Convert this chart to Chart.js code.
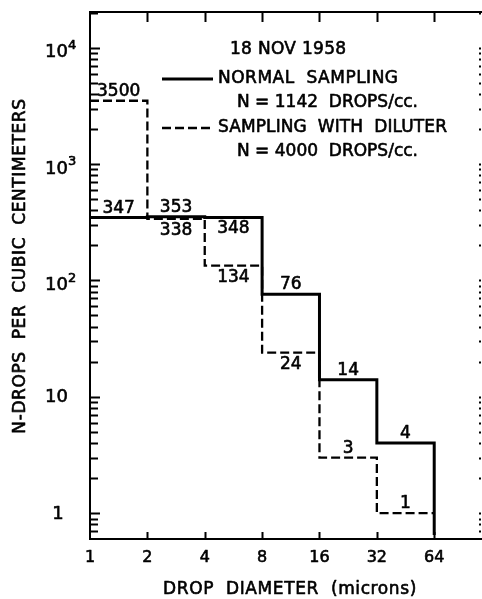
<!DOCTYPE html>
<html><head><meta charset="utf-8">
<script src="https://cdn.jsdelivr.net/npm/chart.js@4/dist/chart.umd.min.js"></script>
<style>html,body{margin:0;padding:0;background:#fff;}#wrap{width:482px;height:599px;position:relative;}</style>
</head><body><div id="wrap"><canvas id="c" width="482" height="599"></canvas></div>
<script>
// ---- data ----
const binEdges = [1, 2, 4, 8, 16, 32, 64];
const normalSampling = [347, 353, 348, 76, 14, 4];
const diluterSampling = [3500, 338, 134, 24, 3, 1];
const normalLabelSide = ['above', 'above', 'below', 'above', 'above', 'above'];
const diluterLabelSide = ['above', 'below', 'below', 'below', 'above', 'above'];
const xTickValues = [1, 2, 4, 8, 16, 32, 64];
const yDecades = [1, 10, 100, 1000, 10000];
const yTickBase = ['1', '10', '10', '10', '10'];
const yTickExp = ['', '', '2', '3', '4'];
const chartDate = '18 NOV 1958';
const seriesNames = ['NORMAL  SAMPLING', 'SAMPLING  WITH  DILUTER'];
const seriesCounts = ['N = 1142  DROPS/cc.', 'N = 4000  DROPS/cc.'];
const xTitle = 'DROP  DIAMETER  (microns)';
const yTitle = 'N-DROPS  PER  CUBIC  CENTIMETERS';

// ---- axis ranges ----
const xMin = 1, xMax = 114;
const yMin = 0.649, yMax = 20270;

const FONT = '"DejaVu Sans", sans-serif';

function stepPoints(vals, endY) {
  const pts = vals.map((v, i) => ({ x: binEdges[i], y: v }));
  pts.push({ x: binEdges[binEdges.length - 1], y: endY });
  return pts;
}

function yTickList() {
  const t = [];
  for (let e = -1; e <= 4; e++) {
    for (let k = 1; k <= 9; k++) {
      const v = k * Math.pow(10, e);
      if (v >= yMin && v <= yMax) t.push({ value: v });
    }
  }
  return t;
}

function txt(ctx, s, x, y, sp) {
  ctx.letterSpacing = (sp || 0) + 'px';
  ctx.fillText(s, x, y);
  ctx.strokeText(s, x, y);
  ctx.letterSpacing = '0px';
}

const decorPlugin = {
  id: 'decor',
  afterDraw(chart) {
    const ctx = chart.ctx;
    const a = chart.chartArea;
    const xs = chart.scales.x, ys = chart.scales.y;
    ctx.save();
    ctx.strokeStyle = '#000';
    ctx.fillStyle = '#000';
    ctx.lineCap = 'butt';
    // frame
    ctx.lineWidth = 2;
    ctx.beginPath();
    ctx.moveTo(a.left, a.top); ctx.lineTo(a.left, a.bottom);
    ctx.moveTo(a.left - 1, a.top); ctx.lineTo(a.right, a.top);
    ctx.moveTo(a.left - 1, a.bottom); ctx.lineTo(a.right, a.bottom);
    ctx.stroke();
    // y ticks (inward) + right dotted ticks
    ys.ticks.forEach(t => {
      const y = Math.round(ys.getPixelForValue(t.value)) + 0.5;
      const dec = yDecades.includes(t.value);
      ctx.lineWidth = 2;
      ctx.beginPath();
      ctx.moveTo(a.left, y); ctx.lineTo(a.left + (dec ? 10 : 8), y);
      ctx.stroke();
      ctx.fillRect(a.right - 3, y - 1, 2, 2);
    });
    // x ticks top and bottom
    xs.ticks.forEach(t => {
      if (t.value === xMin) return;
      const x = Math.round(xs.getPixelForValue(t.value)) + 0.5;
      ctx.lineWidth = 2;
      ctx.beginPath();
      ctx.moveTo(x, a.top); ctx.lineTo(x, a.top + 10);
      ctx.moveTo(x, a.bottom); ctx.lineTo(x, a.bottom - 7);
      ctx.stroke();
    });
    ctx.lineWidth = 0.6;
    ctx.lineJoin = 'round';
    // x tick labels
    ctx.font = '16px ' + FONT;
    ctx.textAlign = 'center';
    ctx.textBaseline = 'middle';
    xs.ticks.forEach(t => {
      txt(ctx, String(t.value), xs.getPixelForValue(t.value), a.bottom + 19);
    });
    // y tick labels
    yDecades.forEach((v, i) => {
      const y = ys.getPixelForValue(v);
      ctx.font = '18px ' + FONT;
      if (yTickBase[i] === '1') {
        ctx.textAlign = 'center';
        txt(ctx, yTickBase[i], 58, y + 1);
      } else {
        ctx.textAlign = 'left';
        txt(ctx, yTickBase[i], 45, y + (yTickExp[i] ? 5 : 1));
        if (yTickExp[i]) {
          ctx.font = '13px ' + FONT;
          txt(ctx, yTickExp[i], 68, y - 2);
        }
      }
    });
    // value labels
    ctx.font = '17px ' + FONT;
    ctx.textAlign = 'center';
    ctx.textBaseline = 'alphabetic';
    const drawLabels = (vals, sides) => {
      vals.forEach((v, i) => {
        const cx = xs.getPixelForValue(Math.sqrt(binEdges[i] * binEdges[i + 1]));
        const y = ys.getPixelForValue(v);
        const by = sides[i] === 'above' ? y - 5 : y + 16;
        txt(ctx, String(v), cx, by);
      });
    };
    drawLabels(normalSampling, normalLabelSide);
    drawLabels(diluterSampling, diluterLabelSide);
    // legend
    ctx.font = '17px ' + FONT;
    ctx.textAlign = 'left';
    ctx.textBaseline = 'middle';
    txt(ctx, chartDate, 230, 50, 0.3);
    ctx.lineWidth = 3;
    ctx.beginPath(); ctx.moveTo(162, 79); ctx.lineTo(213, 79); ctx.stroke();
    ctx.lineWidth = 0.6;
    txt(ctx, seriesNames[0], 218, 79, 0.5);
    txt(ctx, seriesCounts[0], 237, 103);
    ctx.lineWidth = 2.4;
    ctx.setLineDash([9, 4]);
    ctx.beginPath(); ctx.moveTo(162, 128); ctx.lineTo(213, 128); ctx.stroke();
    ctx.setLineDash([]);
    ctx.lineWidth = 0.6;
    txt(ctx, seriesNames[1], 218, 128, 0.1);
    txt(ctx, seriesCounts[1], 237, 152);
    // axis titles
    ctx.textAlign = 'center';
    ctx.font = '17px ' + FONT;
    txt(ctx, xTitle, 290, 590, 0.6);
    ctx.save();
    ctx.translate(21, 266);
    ctx.rotate(-Math.PI / 2);
    txt(ctx, yTitle, 0, 0, 0.6);
    ctx.restore();
    ctx.restore();
  }
};

new Chart(document.getElementById('c'), {
  type: 'line',
  data: {
    datasets: [
      {
        label: seriesNames[0],
        data: stepPoints(normalSampling, yMin),
        stepped: 'before',
        borderColor: '#000',
        borderWidth: 3,
        pointRadius: 0,
        fill: false
      },
      {
        label: seriesNames[1],
        data: stepPoints(diluterSampling, diluterSampling[diluterSampling.length - 1]),
        stepped: 'before',
        borderColor: '#000',
        borderWidth: 2.3,
        borderDash: [9, 4],
        pointRadius: 0,
        fill: false
      }
    ]
  },
  options: {
    responsive: false,
    animation: false,
    devicePixelRatio: 1,
    layout: { padding: { top: 12, right: 0, left: 0, bottom: 0 } },
    plugins: { legend: { display: false }, tooltip: { enabled: false } },
    scales: {
      x: {
        type: 'logarithmic',
        position: 'bottom',
        min: xMin, max: xMax,
        afterBuildTicks: s => { s.ticks = xTickValues.map(v => ({ value: v })); },
        afterFit: s => { s.height = 60; s.paddingLeft = 0; s.paddingRight = 0; },
        grid: { display: false, drawTicks: false },
        border: { display: false },
        ticks: { display: false, autoSkip: false, maxRotation: 0 }
      },
      y: {
        type: 'logarithmic',
        position: 'left',
        min: yMin, max: yMax,
        afterBuildTicks: s => { s.ticks = yTickList(); },
        afterFit: s => { s.width = 90; s.paddingTop = 0; s.paddingBottom = 0; },
        grid: { display: false, drawTicks: false },
        border: { display: false },
        ticks: { display: false, autoSkip: false }
      }
    }
  },
  plugins: [decorPlugin]
});
</script>
</body></html>
